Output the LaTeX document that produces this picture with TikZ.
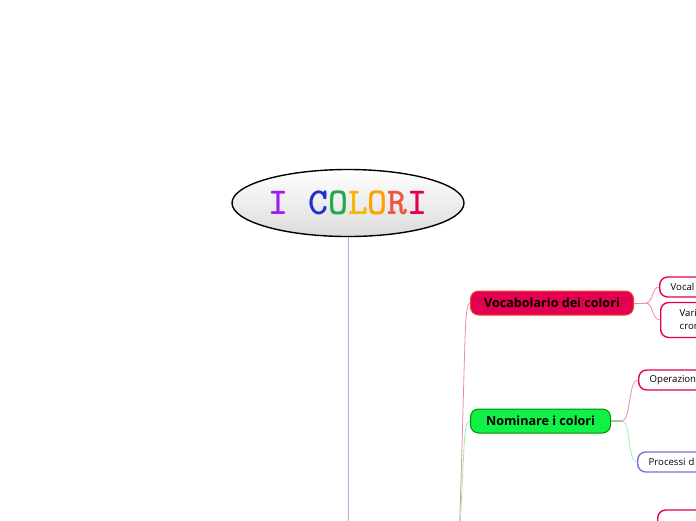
\documentclass[tikz,border=0pt]{standalone}
\usepackage{fontspec}
\setsansfont{Open Sans}
\usetikzlibrary{shapes.geometric}
\definecolor{crimson}{HTML}{E2004F}
\definecolor{leafgreen}{HTML}{11F046}
\definecolor{lilac}{HTML}{B8ACE0}
\definecolor{pinkline}{HTML}{F08AAA}
\definecolor{mintline}{HTML}{9AF0A8}
\definecolor{violet}{HTML}{7F6FCF}
\definecolor{tpurple}{HTML}{A21EF0}
\definecolor{tblue}{HTML}{1F2FD0}
\definecolor{tgreen}{HTML}{22AA48}
\definecolor{tyellow}{HTML}{F4B80C}
\definecolor{torange}{HTML}{FFA200}
\definecolor{tcoral}{HTML}{EE5546}
\begin{document}
\begin{tikzpicture}[x=1pt, y=-1pt,
	topic/.style = {rounded corners=8pt, minimum height=24pt, anchor=west, line width=1pt,
			font=\sffamily\bfseries\fontsize{12.6}{14}\selectfont},
	leaf/.style = {draw=crimson, line width=1.4pt, fill=white, rounded corners=8pt, anchor=west,
		       minimum height=20pt, text width=90pt, inner xsep=11pt, align=left,
		       font=\sffamily\fontsize{9.6}{13}\selectfont},
	branch/.style = {line width=0.8pt},
]
	\useasboundingbox (0,0) rectangle (696,520);
	\clip (0,0) rectangle (696,520);

	\coordinate (stem) at (348,540);
	\coordinate (fork) at (459,545);

	\draw [branch, lilac] (348,203) -- (stem);
	\node [ellipse, draw, line width=1.4pt, minimum width=232pt, minimum height=67pt, inner sep=0pt,
	       top color=white, bottom color=black!14] (root) at (348,203)
		{\fontsize{38}{38}\selectfont\ttfamily\bfseries\textcolor{tpurple}{I} \textcolor{tblue}{C}\textcolor{tgreen}{O}\textcolor{tyellow}{L}\textcolor{torange}{O}\textcolor{tcoral}{R}\textcolor{crimson}{I}};

	\node [topic, fill=crimson, draw=orange!55!crimson, minimum width=163pt] (voc) at (470,303) {Vocabolario dei colori};
	\node [topic, fill=leafgreen, draw=green!55!black, minimum width=140pt] (nom) at (470,421) {Nominare i colori};

	\draw [branch, pinkline] (fork) .. controls (466,330) and (464,304) .. (voc.west);
	\draw [branch, mintline] (fork) .. controls (465,445) and (463,422) .. (nom.west);

	\node [leaf] (vocal) at (659,287) {Vocal};
	\node [leaf, inner xsep=19pt, minimum height=35pt] (vari) at (660,320) {Vari\\cron};
	\node [leaf] (oper) at (638,380) {Operazion};
	\node [leaf, draw=violet] (proc) at (637,462) {Processi d};
	\node [leaf] (last) at (657,520) {};

	\coordinate (vfork) at (646,303);
	\coordinate (nfork) at (622,421);
	\draw [branch, pinkline] (voc.east) -- (vfork);
	\foreach \leafnode in {vocal, vari}{%
		\draw [branch, pinkline] (vfork) .. controls ([xshift=7pt]vfork) and ([xshift=6pt]\leafnode.west -| vfork) .. (\leafnode.west);
	}
	\draw [line width=2pt, green!25!gray!60] (nom.east) -- (nfork);
	\draw [branch, pinkline] (nfork) .. controls (631,421) and (628,380) .. (oper.west);
	\draw [branch, mintline] (nfork) .. controls (631,421) and (627,462) .. (proc.west);
\end{tikzpicture}
\end{document}
